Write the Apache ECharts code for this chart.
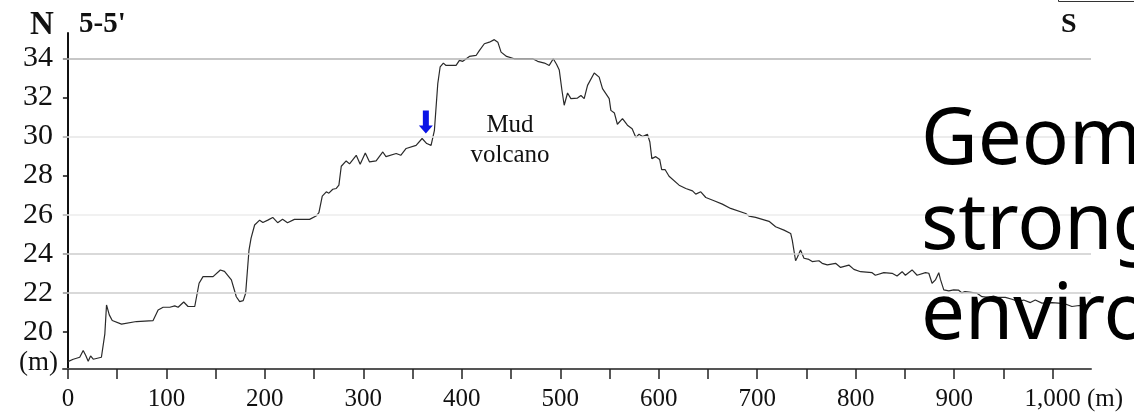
<!DOCTYPE html>
<html>
<head>
<meta charset="utf-8">
<script src="https://cdn.jsdelivr.net/npm/echarts@6/dist/echarts.min.js"></script>
<style>
  html, body { margin: 0; padding: 0; background: #fff; }
  #chart { width: 1134px; height: 413px; }
</style>
</head>
<body>
<div id="chart"></div>
<script>
// 剖面 5-5' 高程数据 (m)
const distanceM = [
  0, 5.4, 12, 15.5, 18, 20.6, 23, 25.7, 34, 37.5, 39.2, 42, 45, 54.4, 69.6, 86.5,
  91.6, 96.7, 103.5, 108.5, 111.9, 117.6, 122, 128.8, 133.2, 137.2, 147.4, 154.8, 159, 166,
  171, 174.4, 178, 180.5, 183.9, 186, 189.6, 194.7, 198, 203, 208, 213, 218, 223, 230,
  245.4, 252, 254.9, 258.3, 262.4, 265, 269, 272.5, 275.2, 277.6, 282.6, 286, 292.8, 296.8,
  302, 306.3, 313, 319.8, 323, 333.4, 338, 343.5, 353.6, 359.7, 364.4, 368.8, 372.2, 375.6,
  378, 381.3, 384, 394.2, 397.6, 401, 407.7, 414.5, 417.8, 422.9, 428, 433, 436.6, 439.9,
  445.5, 453.3, 472, 477, 484, 488.8, 492.9, 496.2, 499, 501.7, 504, 507.4, 510.8, 517.5,
  521, 524.3, 527.7, 534.5, 539.5, 542.9, 549.7, 551.4, 555, 558, 563.2, 568.2, 573, 576.8,
  580, 583.6, 588.5, 591, 593, 597, 601, 603, 606.4, 610.5, 620.7, 627.5, 634.3, 637.6,
  642.7, 647.8, 656.2, 664.6, 673, 688.3, 691.7, 698.4, 712, 718.7, 727.2, 734, 735.6, 739,
  740.7, 744, 747.5, 752.5, 755.9, 762.7, 766, 771.2, 779.6, 784.7, 793.1, 798.2, 805, 816.7,
  820, 828.6, 837, 842, 847.2, 850.5, 857.3, 862.4, 870.9, 874.3, 877.6, 881, 884.4, 886,
  889.5, 894.6, 899.6, 904.3, 907.7, 911, 923.2, 928.3, 935, 940, 943.5, 952, 958.8, 965.5,
  970.6, 977.4, 982.4, 989.2, 999.4, 1006, 1013, 1019.6, 1027, 1035
];
const elevationM = [
  18.48, 18.6, 18.7, 19.05, 18.8, 18.5, 18.77, 18.6, 18.7, 19.9, 21.38, 20.87, 20.58, 20.4, 20.53, 20.58,
  21.12, 21.26, 21.26, 21.33, 21.26, 21.53, 21.3, 21.3, 22.49, 22.83, 22.83, 23.17, 23.1, 22.66,
  21.8, 21.55, 21.6, 21.98, 24.19, 24.8, 25.47, 25.72, 25.6, 25.72, 25.86, 25.59, 25.76, 25.59, 25.76,
  25.76, 25.93, 26.1, 26.95, 27.17, 27.1, 27.3, 27.34, 27.51, 28.48, 28.75, 28.6, 29.04, 28.58,
  29.16, 28.7, 28.75, 29.21, 28.97, 29.13, 29.04, 29.39, 29.55, 29.9, 29.64, 29.55, 30.32, 32.7,
  33.56, 33.76, 33.64, 33.64, 33.9, 33.85, 34.1, 34.15, 34.4, 34.75, 34.83, 34.96, 34.83, 34.32,
  34.1, 33.98, 33.98, 33.85, 33.76, 33.64, 33.98, 33.7, 33.4, 32.37, 31.6, 32.23, 31.94, 31.97,
  32.1, 31.94, 32.62, 33.25, 33.04, 32.45, 31.94, 31.34, 31.2, 30.63, 30.92, 30.58, 30.4, 29.95,
  30.12, 30.0, 30.12, 29.72, 28.87, 28.97, 28.82, 28.31, 28.31, 27.97, 27.51, 27.34, 27.22, 27.05,
  27.17, 26.88, 26.71, 26.54, 26.32, 26.06, 25.93, 25.86, 25.66, 25.38, 25.21, 25.04, 24.7, 23.64,
  23.81, 24.19, 23.77, 23.71, 23.6, 23.64, 23.51, 23.43, 23.51, 23.3, 23.42, 23.2, 23.08, 23.03,
  22.9, 23.03, 23.0, 22.86, 23.08, 22.9, 23.17, 22.9, 23.03, 23.0, 22.49, 22.66, 23.03, 22.7,
  22.15, 22.1, 22.15, 22.14, 22.0, 22.06, 21.98, 21.8, 21.77, 21.83, 21.77, 21.77, 21.67, 21.55,
  21.63, 21.5, 21.63, 21.47, 21.5, 21.47, 21.43, 21.3, 21.35, 21.3
];

// 刻度
const xTickValues = [0, 50, 100, 150, 200, 250, 300, 350, 400, 450, 500, 550, 600, 650, 700, 750, 800, 850, 900, 950, 1000];
const xLabelValues = [0, 100, 200, 300, 400, 500, 600, 700, 800, 900, 1000];
const yTickValues = [20, 22, 24, 26, 28, 30, 32, 34];
const gridLineValues = [22, 24, 26, 30, 34];
const gridLineColors = ['#cdcdcd', '#cdcdcd', '#ececec', '#e6e6e6', '#b4b4b4'];

// 标注: 蓝色箭头位置
const arrowPoint = [363.5, 30.75];

const serif = '"Liberation Serif", "Times New Roman", serif';
const chart = echarts.init(document.getElementById('chart'));

const option = {
  animation: false,
  backgroundColor: '#fff',
  grid: { left: 63, right: 43, top: 33, bottom: 44 },
  xAxis: {
    type: 'value',
    min: -5,
    max: 1039,
    axisLine: { show: true, lineStyle: { color: '#555', width: 2 } },
    axisTick: {
      show: true,
      customValues: xTickValues,
      length: 10,
      lineStyle: { color: '#222', width: 1.5 }
    },
    axisLabel: {
      customValues: xLabelValues,
      margin: 18,
      color: '#111',
      fontFamily: serif,
      fontSize: 25,
      formatter: v => (v === 1000 ? '1,000' : String(v))
    },
    splitLine: { show: false }
  },
  yAxis: {
    type: 'value',
    min: 18.1,
    max: 35.3,
    axisLine: { show: true, lineStyle: { color: '#111', width: 2 } },
    axisTick: {
      show: true,
      customValues: yTickValues,
      length: 5,
      lineStyle: { color: '#111', width: 1.5 }
    },
    axisLabel: {
      customValues: yTickValues,
      margin: 10,
      color: '#111',
      fontFamily: serif,
      fontSize: 30
    },
    splitLine: { show: false }
  },
  series: [{
    type: 'line',
    data: distanceM.map((d, i) => [d, elevationM[i]]),
    showSymbol: false,
    lineStyle: { color: '#2a2a2a', width: 1.2 },
    markLine: {
      silent: true,
      symbol: 'none',
      label: { show: false },
      data: gridLineValues.map((v, i) => ({
        yAxis: v,
        lineStyle: { color: gridLineColors[i], width: 1.5, type: 'solid' }
      }))
    },
    markPoint: {
      silent: true,
      symbol: 'path://M4,0 L10,0 L10,15 L14,15 L7,23 L0,15 L4,15 Z',
      symbolSize: [14, 23],
      itemStyle: { color: '#0a14e6' },
      label: { show: false },
      data: [{ coord: arrowPoint }]
    }
  }],
  graphic: [
    { type: 'text', left: 30, top: 9, style: { text: 'N', font: 'bold 33px ' + serif, fill: '#111' } },
    { type: 'text', left: 79, top: 10, style: { text: "5-5'", font: 'bold 29px ' + serif, fill: '#111' } },
    { type: 'text', left: 1061, top: 11, style: { text: 'S', font: 'bold 28px ' + serif, fill: '#111' } },
    { type: 'text', left: 19, top: 349, style: { text: '(m)', font: '27px ' + serif, fill: '#111' } },
    { type: 'text', left: 1087, top: 387, style: { text: '(m)', font: '25px ' + serif, fill: '#111' } },
    {
      type: 'text', x: 510, y: 110,
      style: { text: 'Mud\nvolcano', font: '25px ' + serif, lineHeight: 30, fill: '#111', align: 'center', verticalAlign: 'top' }
    },
    {
      type: 'rect', shape: { x: 1058.5, y: -10, width: 100, height: 11.5 },
      style: { fill: 'none', stroke: '#333', lineWidth: 1 }
    },
    {
      type: 'text', x: 921, y: 142, z: 100,
      style: { text: 'Geom', font: '78px "Noto Sans"', fill: '#000', verticalAlign: 'middle' }
    },
    {
      type: 'text', x: 921, y: 227, z: 100,
      style: { text: 'strong', font: '78px "Noto Sans"', fill: '#000', verticalAlign: 'middle' }
    },
    {
      type: 'text', x: 921, y: 317, z: 100,
      style: { text: 'enviro', font: '78px "Noto Sans"', fill: '#000', verticalAlign: 'middle' }
    }
  ]
};

chart.setOption(option);
</script>
</body>
</html>
